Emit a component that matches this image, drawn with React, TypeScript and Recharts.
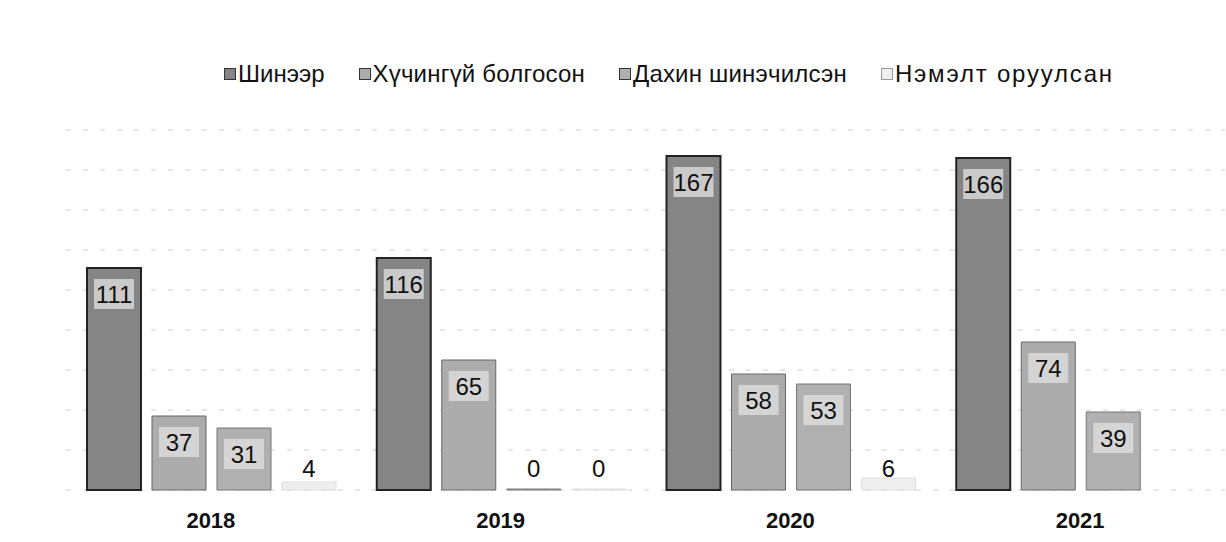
import { BarChart, Bar, XAxis, YAxis, CartesianGrid, LabelList } from 'recharts'

const years = ['2018', '2019', '2020', '2021']
const shineer = [111, 116, 167, 166]
const khuchingui = [37, 65, 58, 74]
const dakhin = [31, 0, 53, 39]
const nemelt: (number | null)[] = [4, 0, 6, null]
const yTicks = [0, 20, 40, 60, 80, 100, 120, 140, 160, 180]

const FONT = "'Liberation Sans', Arial, sans-serif"

const series = [
  { key: 'shineer', name: 'Шинээр', fill: '#858585', stroke: '#222', sw: 2, ls: 0 },
  { key: 'khuchingui', name: 'Хүчингүй болгосон', fill: '#acacac', stroke: '#666', sw: 1, ls: 0.2 },
  { key: 'dakhin', name: 'Дахин шинэчилсэн', fill: '#b0b0b0', stroke: '#777', sw: 1, ls: 0.2 },
  { key: 'nemelt', name: 'Нэмэлт оруулсан', fill: '#eeeeee', stroke: '#dddddd', sw: 1, ls: 1.8 },
]

const data = years.map((year, i) => ({
  year,
  shineer: shineer[i],
  khuchingui: khuchingui[i],
  dakhin: dakhin[i],
  nemelt: nemelt[i],
}))

const BASE = 490

// value label near top of bar, lifted above baseline for tiny bars
const renderLabel = (props: any) => {
  const { x, y, width, value } = props
  if (value === null || value === undefined) return null
  const cx = x + width / 2
  const cy = Math.min(y + 26, BASE - 22)
  const big = value >= 20
  return (
    <g>
      {big && <rect x={cx - 20} y={cy - 15} width={40} height={30} fill="#e2e2e2" opacity={0.75} />}
      <text x={cx} y={cy} textAnchor="middle" dominantBaseline="central" fontSize={24} fill="#111" fontFamily={FONT}>
        {value}
      </text>
    </g>
  )
}

export default function App() {
  return (
    <div style={{ position: 'absolute', left: 0, top: 0, width: 1226, height: 542, background: '#fff' }}>
      <div style={{ position: 'absolute', left: 224, top: 60, display: 'flex', fontFamily: FONT, fontSize: 24, color: '#111', whiteSpace: 'nowrap' }}>
        {series.map((s, i) => (
          <div key={s.key} style={{ display: 'flex', alignItems: 'center', marginRight: i < series.length - 1 ? 34 : 0, letterSpacing: s.ls }}>
            <span style={{ display: 'inline-block', width: 10, height: 10, background: s.fill, border: `1px solid ${s.key === 'nemelt' ? '#999' : '#333'}`, marginRight: 2 }} />
            {s.name}
          </div>
        ))}
      </div>
      <BarChart width={1226} height={542} data={data} margin={{ top: 130, right: 1, bottom: 0, left: 66 }}
        barCategoryGap={21} barGap={11}>
        <CartesianGrid vertical={false} stroke="#cfcfcf" strokeDasharray="5 12" />
        <XAxis dataKey="year" axisLine={false} tickLine={false} height={52} interval={0}
          tick={{ fontSize: 22, fontWeight: 'bold', fill: '#111', fontFamily: FONT, dy: 14 }} />
        <YAxis hide domain={[0, 180]} ticks={yTicks} />
        {series.map((s) => (
          <Bar key={s.key} dataKey={s.key} name={s.name} fill={s.fill} stroke={s.stroke} strokeWidth={s.sw}
            minPointSize={(v: any) => (v === 0 ? 1 : 0)} isAnimationActive={false}>
            <LabelList dataKey={s.key} content={renderLabel} />
          </Bar>
        ))}
      </BarChart>
    </div>
  )
}
